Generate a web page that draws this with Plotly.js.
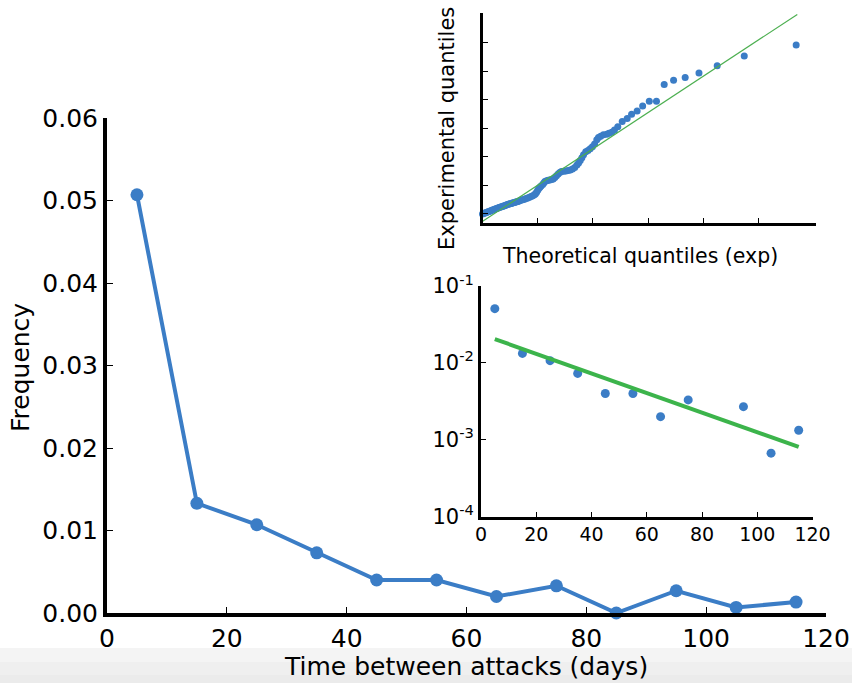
<!DOCTYPE html>
<html>
<head>
<meta charset="utf-8">
<script src="https://cdn.plot.ly/plotly-3.0.1.min.js"></script>
<style>html,body{margin:0;padding:0;background:#fff;}#chart{width:852px;height:683px;}</style>
</head>
<body>
<div id="chart"></div>
<script>
// Histogram of time between attacks (bin centres, days) and frequency
var binCenters = [5, 15, 25, 35, 45, 55, 65, 75, 85, 95, 105, 115];
var frequency = [0.0507, 0.0133, 0.0107, 0.0073, 0.0040, 0.0040, 0.0020, 0.0033, 0.0, 0.0027, 0.00067, 0.00133];

// Log inset: frequencies > 0 only
var logBins = [5, 15, 25, 35, 45, 55, 65, 75, 95, 105, 115];
var logFreq = [0.0507, 0.0133, 0.0107, 0.0073, 0.0040, 0.0040, 0.0020, 0.0033, 0.0027, 0.00067, 0.00133];
// Exponential fit line (endpoints)
var fitX = [5, 115];
var fitY = [0.0204, 0.00081];

// QQ plot: theoretical exponential quantiles vs experimental quantiles (days)
var qqTheo = [0.00,0.02,0.04,0.06,0.08,0.10,0.12,0.14,0.16,0.18,0.20,0.22,0.24,0.26,0.28,0.30,0.32,0.34,0.36,0.38,0.40,0.42,0.44,0.46,0.48,0.50,0.52,0.54,0.56,0.58,0.60,0.62,0.64,0.66,0.68,0.70,
  0.73,0.76,0.79,0.82,0.85,0.88,0.91,0.94,0.96,0.98,1.00,1.02,1.04,
  1.06,1.09,1.11,1.13,1.16,1.19,1.22,1.25,1.28,1.31,1.34,1.37,1.40,
  1.43,1.47,1.51,1.55,1.59,1.63,1.67,1.71,1.74,1.77,1.80,
  1.83,1.87,1.91,1.95,1.99,2.03,
  2.07,2.10,2.14,2.19,2.25,2.29,
  2.34,2.39,2.45,2.53,
  2.62,2.70,2.80,2.90,3.02,3.15,3.29,3.46,3.67,3.92,4.25,4.74,5.68];
var qqExp = [0.0,0.3,0.6,0.9,1.2,1.5,1.8,2.1,2.4,2.7,3.0,3.3,3.6,3.9,4.2,4.5,4.7,5.0,5.3,5.6,5.8,6.1,6.4,6.6,6.9,7.2,7.4,7.6,7.8,8.0,8.3,8.5,8.8,9.1,9.4,9.7,
  10.0,10.4,10.8,11.2,11.7,12.2,12.8,13.4,14.2,15.2,16.6,17.8,18.8,
  19.6,20.6,21.8,22.8,23.3,23.6,23.9,24.1,24.5,25.5,26.8,28.0,29.0,
  29.7,30.0,30.2,30.5,30.9,31.6,32.6,34.4,35.8,37.5,39.5,
  41.5,43.6,44.6,45.8,47.2,49.0,
  52.0,53.6,54.6,55.6,55.9,56.6,
  57.3,58.9,61.1,64.8,
  66.9,70.0,72.3,75.8,79.1,79.1,90.8,93.8,95.7,98.9,103.9,110.9,118.6];
var qqLineX = [0.0033, 5.70];
var qqLineY = [-5.2, 140.0];

var titles = {
  mainX: 'Time between attacks (days)',
  mainY: 'Frequency',
  qqX: 'Theoretical quantiles (exp)',
  qqY: 'Experimental quantiles'
};

var blue = '#3b7dc6';
var green = '#3cb44b';
var font = 'DejaVu Sans, Verdana, sans-serif';

var traces = [
  {x: binCenters, y: frequency, type: 'scatter', mode: 'lines+markers', xaxis: 'x', yaxis: 'y',
   line: {color: blue, width: 4}, marker: {color: blue, size: 13}, cliponaxis: false},
  {x: qqTheo, y: qqExp, type: 'scatter', mode: 'markers', xaxis: 'x2', yaxis: 'y2',
   marker: {color: blue, size: 7}, cliponaxis: false},
  {x: qqLineX, y: qqLineY, type: 'scatter', mode: 'lines', xaxis: 'x2', yaxis: 'y2',
   line: {color: '#4caf50', width: 1.2}},
  {x: logBins, y: logFreq, type: 'scatter', mode: 'markers', xaxis: 'x3', yaxis: 'y3',
   marker: {color: blue, size: 9}, cliponaxis: false},
  {x: fitX, y: fitY, type: 'scatter', mode: 'lines', xaxis: 'x3', yaxis: 'y3',
   line: {color: green, width: 4}}
];

var W = 852, H = 683;
function px(v){ return v / W; }
function py(v){ return 1 - v / H; }

var layout = {
  width: W, height: H,
  margin: {l: 0, r: 0, t: 0, b: 0},
  paper_bgcolor: '#ffffff', plot_bgcolor: 'rgba(0,0,0,0)',
  showlegend: false,
  font: {family: font, color: '#000'},
  xaxis: {domain: [px(107), px(826)], range: [0, 120], tickvals: [0,20,40,60,80,100,120],
    ticks: 'inside', ticklen: 6, tickwidth: 1, tickcolor: '#000',
    showline: true, linewidth: 4, linecolor: '#000', showgrid: false, zeroline: false,
    tickfont: {size: 25, family: font}, anchor: 'y'},
  yaxis: {domain: [py(613), py(118)], range: [0, 0.06], tickvals: [0,0.01,0.02,0.03,0.04,0.05,0.06],
    ticktext: ['0.00','0.01','0.02','0.03','0.04','0.05','0.06'],
    ticks: 'inside', ticklen: 6, tickwidth: 1, tickcolor: '#000',
    showline: true, linewidth: 4, linecolor: '#000', showgrid: false, zeroline: false,
    tickfont: {size: 25, family: font}, anchor: 'x'},
  xaxis2: {domain: [px(482.5), px(815.5)], range: [0, 6.03], tickvals: [1,2,3,4,5],
    ticks: 'inside', ticklen: 5, tickwidth: 1, tickcolor: '#000', showticklabels: false,
    showline: true, linewidth: 3, linecolor: '#000', showgrid: false, zeroline: false, anchor: 'y2'},
  yaxis2: {domain: [py(222.5), py(13)], range: [-6, 141], tickvals: [0,20,40,60,80,100,120],
    ticks: 'inside', ticklen: 5, tickwidth: 1, tickcolor: '#000', showticklabels: false,
    showline: true, linewidth: 3, linecolor: '#000', showgrid: false, zeroline: false, anchor: 'x2'},
  xaxis3: {domain: [px(481), px(812.5)], range: [0, 120], tickvals: [0,20,40,60,80,100,120],
    ticks: 'inside', ticklen: 5, tickwidth: 1, tickcolor: '#000',
    showline: true, linewidth: 3, linecolor: '#000', showgrid: false, zeroline: false, anchor: 'y3',
    tickfont: {size: 19, family: font}, ticklabelstandoff: -2},
  yaxis3: {domain: [py(516.7), py(286)], type: 'log', range: [-4, -1],
    tickvals: [0.0001, 0.001, 0.01, 0.1],
    ticktext: ['10<sup>-4</sup>','10<sup>-3</sup>','10<sup>-2</sup>','10<sup>-1</sup>'],
    ticks: 'inside', ticklen: 5, tickwidth: 1, tickcolor: '#000',
    showline: true, linewidth: 3, linecolor: '#000', showgrid: false, zeroline: false, anchor: 'x3',
    tickfont: {size: 21, family: font}},
  annotations: [
    {text: titles.mainX, xref: 'paper', yref: 'paper', x: px(466), y: py(666), xanchor: 'center', yanchor: 'middle',
     showarrow: false, font: {size: 25, family: font, color: '#000'}},
    {text: titles.mainY, xref: 'paper', yref: 'paper', x: px(20), y: py(368), xanchor: 'center', yanchor: 'middle',
     textangle: -90, showarrow: false, font: {size: 25, family: font, color: '#000'}},
    {text: titles.qqX, xref: 'paper', yref: 'paper', x: px(640), y: py(256), xanchor: 'center', yanchor: 'middle',
     showarrow: false, font: {size: 20.5, family: font, color: '#000'}},
    {text: titles.qqY, xref: 'paper', yref: 'paper', x: px(447), y: py(129), xanchor: 'center', yanchor: 'middle',
     textangle: -90, showarrow: false, font: {size: 21, family: font, color: '#000'}}
  ],
  shapes: [
    {type: 'rect', xref: 'paper', yref: 'paper', x0: 0, x1: 1, y0: py(683), y1: py(648), fillcolor: '#f4f4f4', line: {width: 0}, layer: 'below'},
    {type: 'rect', xref: 'paper', yref: 'paper', x0: 0, x1: 1, y0: py(683), y1: py(662), fillcolor: '#efefef', line: {width: 0}, layer: 'below'},
    {type: 'rect', xref: 'paper', yref: 'paper', x0: 0, x1: 1, y0: py(683), y1: py(675), fillcolor: '#ebebeb', line: {width: 0}, layer: 'below'}
  ]
};

Plotly.newPlot('chart', traces, layout, {displayModeBar: false, staticPlot: true});
</script>
</body>
</html>
